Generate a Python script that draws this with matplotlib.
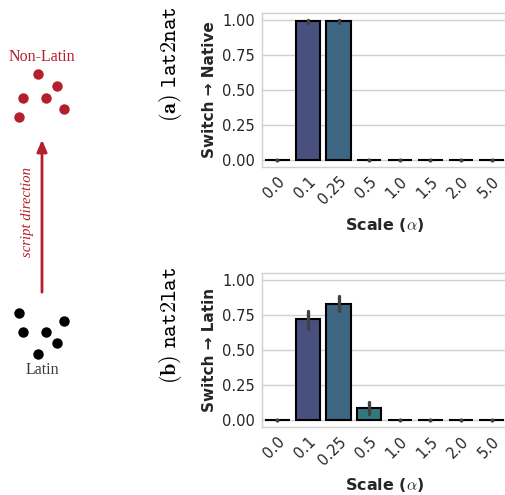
import numpy as np
import matplotlib
matplotlib.use("Agg")
import matplotlib.pyplot as plt
import seaborn as sns

plt.rcParams['mathtext.fontset'] = 'cm'
plt.rcParams['font.family'] = 'DejaVu Sans'

# ---- data ----
scales = ['0.0', '0.1', '0.25', '0.5', '1.0', '1.5', '2.0', '5.0']

lat2nat_mean = [0.0, 0.99, 0.99, 0.0, 0.0, 0.0, 0.0, 0.0]
lat2nat_lo = [0.0, 0.975, 0.975, 0.0, 0.0, 0.0, 0.0, 0.0]
lat2nat_hi = [0.0, 1.0, 1.0, 0.0, 0.0, 0.0, 0.0, 0.0]

nat2lat_mean = [0.0, 0.72, 0.83, 0.09, 0.0, 0.0, 0.0, 0.0]
nat2lat_lo = [0.0, 0.655, 0.777, 0.045, 0.0, 0.0, 0.0, 0.0]
nat2lat_hi = [0.0, 0.78, 0.887, 0.127, 0.0, 0.0, 0.0, 0.0]

# toy points for the left schematic (pixel space)
nonlatin_x = [37.7, 56.7, 22.7, 45.7, 64.3, 19.0]
nonlatin_y = [74.3, 86.0, 97.7, 97.7, 109.0, 116.7]
latin_x = [19.0, 64.3, 22.7, 45.7, 56.7, 37.7]
latin_y = [313.3, 320.7, 332.0, 332.0, 343.3, 354.3]

RED = '#b41f2e'
ERR = '#424242'
palette = sns.color_palette('viridis', len(scales), desat=0.75)

fig = plt.figure(figsize=(5.05, 4.95), dpi=100)


def bar_panel(ax, mean, lo, hi, ylabel, title):
    x = np.arange(len(scales))
    ax.bar(x, mean, width=0.8, color=palette, edgecolor='black', linewidth=1.5, zorder=2)
    for xi, l, h in zip(x, lo, hi):
        if h > l:
            ax.plot([xi, xi], [l, h], color=ERR, lw=2.4, solid_capstyle='round', zorder=3)
        else:
            # zero-width CI shows up as a small dot
            ax.plot(xi, l, 'o', color=ERR, ms=3, mec='none', zorder=3)
    ax.set_xlim(-0.5, len(scales) - 0.5)
    ax.set_ylim(-0.05, 1.05)
    ax.set_yticks([0, 0.25, 0.5, 0.75, 1.0])
    ax.set_yticklabels(['0.00', '0.25', '0.50', '0.75', '1.00'])
    ax.set_xticks(x)
    ax.set_xticklabels(scales, rotation=45, ha='right', rotation_mode='anchor')
    ax.tick_params(length=0, labelsize=10.5, colors='.15', pad=5)
    ax.grid(axis='y', color='#d0d0d0', lw=1, zorder=0)
    ax.set_axisbelow(True)
    for s in ax.spines.values():
        s.set_color('#d0d0d0')
        s.set_linewidth(1)
    ax.set_ylabel(ylabel, fontsize=11, fontweight='bold', color='.15', labelpad=4)
    ax.set_xlabel(r'Scale ($\alpha$)', fontsize=11.5, fontweight='bold', color='.15', labelpad=6)
    ax.text(-0.375, 0.665, title, transform=ax.transAxes, rotation=90,
            ha='center', va='center', fontsize=16, color='black')


ax1 = fig.add_axes([0.519, 0.663, 0.485, 0.311])
bar_panel(ax1, lat2nat_mean, lat2nat_lo, lat2nat_hi,
          'Switch → Native', r'$\mathbf{(a)}\ \mathtt{lat2nat}$')

ax2 = fig.add_axes([0.519, 0.137, 0.485, 0.311])
bar_panel(ax2, nat2lat_mean, nat2lat_lo, nat2lat_hi,
          'Switch → Latin', r'$\mathbf{(b)}\ \mathtt{nat2lat}$')

# left schematic
axd = fig.add_axes([0, 0, 0.25, 1])
axd.set_xlim(0, 126.25)
axd.set_ylim(495, 0)
axd.axis('off')
axd.plot(nonlatin_x, nonlatin_y, 'o', color=RED, ms=7.5, mec='none')
axd.plot(latin_x, latin_y, 'o', color='black', ms=7.5, mec='none')
axd.text(42, 57, 'Non-Latin', color=RED, fontsize=11.5, family='Liberation Serif',
         ha='center', va='center')
axd.text(42, 370, 'Latin', color='#3a3a3a', fontsize=11.5, family='Liberation Serif',
         ha='center', va='center')
axd.annotate('', xy=(42, 137), xytext=(42, 295),
             arrowprops=dict(arrowstyle='-|>,head_length=0.7,head_width=0.3',
                             color=RED, lw=2))
axd.text(27, 212, 'script direction', color=RED, fontsize=10.5, style='italic',
         family='Liberation Serif', rotation=90, ha='center', va='center')

fig.savefig('out.png', dpi=100)
